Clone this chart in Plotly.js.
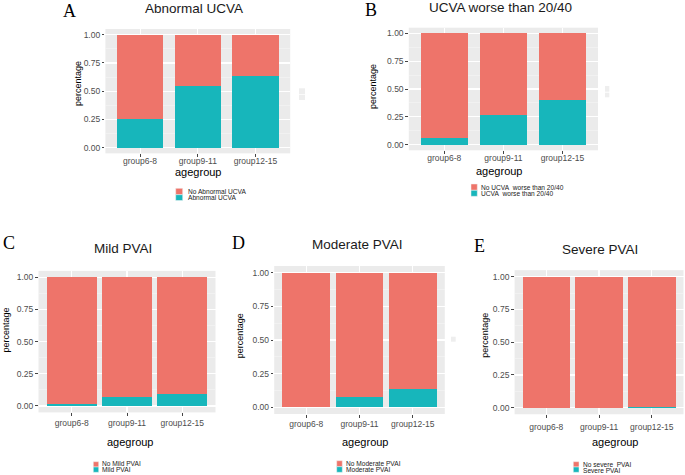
<!DOCTYPE html>
<html><head><meta charset="utf-8">
<script src="https://cdn.plot.ly/plotly-3.0.1.min.js"></script>
<style>html,body{margin:0;padding:0;background:#fff}#chart{width:685px;height:475px}</style>
</head><body><div id="chart"></div>
<script>
// ---- data ----
const ageGroups = ['group6-8', 'group9-11', 'group12-15'];
const yTickVals = [0, 0.25, 0.5, 0.75, 1];

const abnormalUCVA     = [0.254, 0.549, 0.634];
const noAbnormalUCVA   = [0.746, 0.451, 0.366];
const ucvaWorse        = [0.060, 0.270, 0.404];
const noUcvaWorse      = [0.940, 0.730, 0.596];
const mildPVAI         = [0.018, 0.068, 0.096];
const noMildPVAI       = [0.982, 0.932, 0.904];
const moderatePVAI     = [0.005, 0.079, 0.134];
const noModeratePVAI   = [0.995, 0.921, 0.866];
const severePVAI       = [0.000, 0.000, 0.003];
const noSeverePVAI     = [1.000, 1.000, 0.997];

const panelTitles = ['Abnormal UCVA', 'UCVA worse than 20/40', 'Mild PVAI', 'Moderate PVAI', 'Severe PVAI'];
const panelLetters = ['A', 'B', 'C', 'D', 'E'];
const posLabels = ['Abnormal UCVA', 'UCVA\u00a0 worse than 20/40', 'Mild PVAI', 'Moderate PVAI', 'Severe PVAI'];
const negLabels = ['No Abnormal UCVA', 'No UCVA\u00a0 worse than 20/40', 'No Mild PVAI', 'No Moderate PVAI', 'No severe\u00a0 PVAI'];
const posSeries = [abnormalUCVA, ucvaWorse, mildPVAI, moderatePVAI, severePVAI];
const negSeries = [noAbnormalUCVA, noUcvaWorse, noMildPVAI, noModeratePVAI, noSeverePVAI];

// ---- layout geometry (pixels) ----
const W = 685, H = 475;
const geom = [
  {x:[105.4,290.2], y:[29.05,153.35], bw:0.8, so:-3, t:[194,8.5], l:[69.7,10.5], ag:[198.7,172], pc:[77.8,83.3],
   sw:[175.7,7], sp:[188.3,194.7], st:[194.7,200.5], tx:186, ty:[191,197.3]},
  {x:[408.8,598], y:[27.7,150.3], bw:0.8, so:-3, t:[500.5,7], l:[371,9.7], ag:[499.7,170.5], pc:[372.3,86.7],
   sw:[471,6.3], sp:[184,190.3], st:[190.3,196.3], tx:478.5, ty:[187,193.3]},
  {x:[38.5,215.5], y:[270.9,412.4], bw:0.9, so:0, t:[123.3,248.5], l:[9,243], ag:[130.3,442], pc:[6.3,330.3],
   sw:[93.3,5.4], sp:[461.7,467], st:[467,472.3], tx:100, ty:[463.9,469.8]},
  {x:[274.2,444.8], y:[266,414], bw:0.9, so:-1, t:[357.8,244.5], l:[238,243], ag:[365.3,442], pc:[239.5,335.8],
   sw:[336.7,5.6], sp:[460.7,466.7], st:[466.7,472.3], tx:344, ty:[463,469.5]},
  {x:[514.6,683.5], y:[270.15,414.25], bw:0.9, so:2, t:[600.3,249], l:[479,245.5], ag:[615.3,442], pc:[484.7,335],
   sw:[573.3,5.7], sp:[461.7,467], st:[467,472.3], tx:581, ty:[464,470]}
];
const px = x => x / W;
const py = y => 1 - y / H;

const PINK = '#EE746A', TEAL = '#17B6BB';
const FONT = 'Liberation Sans, Arial, sans-serif';

const traces = [];
const layout = {
  width: W, height: H,
  margin: {l:0, r:0, t:0, b:0},
  paper_bgcolor: '#ffffff',
  plot_bgcolor: '#EBEBEB',
  barmode: 'stack',
  showlegend: false,
  font: {family: FONT, color: '#4D4D4D'},
  annotations: [],
  shapes: []
};

geom.forEach((g, i) => {
  const s = i === 0 ? '' : String(i + 1);
  const xa = 'x' + s, ya = 'y' + s;
  traces.push({type:'bar', x: ageGroups, y: posSeries[i], name: posLabels[i], xaxis: xa, yaxis: ya,
               width: g.bw, marker: {color: TEAL, line: {width: 0}}, hoverinfo: 'none'});
  traces.push({type:'bar', x: ageGroups, y: negSeries[i], name: negLabels[i], xaxis: xa, yaxis: ya,
               width: g.bw, marker: {color: PINK, line: {width: 0}}, hoverinfo: 'none'});
  layout['xaxis' + s] = {
    domain: [px(g.x[0]), px(g.x[1])], anchor: ya, type: 'category',
    categoryorder: 'array', categoryarray: ageGroups,
    range: [-0.6, 2.6], showgrid: true, gridcolor: '#FFFFFF', gridwidth: 1.1,
    zeroline: false, showline: false, ticks: 'outside', ticklen: 2.5, tickcolor: '#444', tickwidth: 1,
    ticklabelstandoff: g.so,
    tickfont: {family: FONT, size: 8.5, color: '#4D4D4D'}, fixedrange: true
  };
  layout['yaxis' + s] = {
    domain: [py(g.y[1]), py(g.y[0])], anchor: xa,
    range: [-0.05, 1.05], tickvals: yTickVals, tickformat: '.2f',
    showgrid: true, gridcolor: '#FFFFFF', gridwidth: 1.1,
    minor: {tick0: 0, dtick: 0.125, showgrid: true, gridcolor: '#F5F5F5', gridwidth: 0.6, ticks: ''},
    zeroline: false, showline: false, ticks: 'outside', ticklen: 2.5, tickcolor: '#444', tickwidth: 1,
    tickfont: {family: FONT, size: 8.5, color: '#4D4D4D'}, fixedrange: true
  };
  const ann = layout.annotations;
  ann.push({text: panelTitles[i], x: px(g.t[0]), y: py(g.t[1]), xref:'paper', yref:'paper',
            xanchor:'center', yanchor:'middle', showarrow:false, font:{family: FONT, size: 13.5, color:'#1a1a1a'}});
  ann.push({text: panelLetters[i], x: px(g.l[0]), y: py(g.l[1]), xref:'paper', yref:'paper',
            xanchor:'center', yanchor:'middle', showarrow:false, font:{family:'Liberation Serif, Times New Roman, serif', size: 18, color:'#000'}});
  ann.push({text: 'agegroup', x: px(g.ag[0]), y: py(g.ag[1]), xref:'paper', yref:'paper',
            xanchor:'center', yanchor:'middle', showarrow:false, font:{family: FONT, size: 11, color:'#000'}});
  ann.push({text: 'percentage', x: px(g.pc[0]), y: py(g.pc[1]), xref:'paper', yref:'paper', textangle: -90,
            xanchor:'center', yanchor:'middle', showarrow:false, font:{family: FONT, size: 9, color:'#000'}});
  ann.push({text: negLabels[i], x: px(g.tx), y: py(g.ty[0]), xref:'paper', yref:'paper',
            xanchor:'left', yanchor:'middle', showarrow:false, font:{family: FONT, size: 6.6, color:'#1a1a1a'}});
  ann.push({text: posLabels[i], x: px(g.tx), y: py(g.ty[1]), xref:'paper', yref:'paper',
            xanchor:'left', yanchor:'middle', showarrow:false, font:{family: FONT, size: 6.6, color:'#1a1a1a'}});
  layout.shapes.push({type:'rect', xref:'paper', yref:'paper', x0: px(g.sw[0]), x1: px(g.sw[0] + g.sw[1]),
                      y0: py(g.sp[1]), y1: py(g.sp[0]), fillcolor: PINK, line:{width:0.5, color:'#f2f2f2'}});
  layout.shapes.push({type:'rect', xref:'paper', yref:'paper', x0: px(g.sw[0]), x1: px(g.sw[0] + g.sw[1]),
                      y0: py(g.st[1]), y1: py(g.st[0]), fillcolor: TEAL, line:{width:0.5, color:'#f2f2f2'}});
});

// faint leftover legend keys seen in the reference
[[299,88.3,305,94.3],[299,95,305,100],[605,86,609.3,91.7],[605,92.7,609.3,97.3],[451,336.7,455.7,341.7]].forEach(r => {
  layout.shapes.push({type:'rect', xref:'paper', yref:'paper', x0: px(r[0]), x1: px(r[2]), y0: py(r[3]), y1: py(r[1]),
                      fillcolor:'#EEEEEE', line:{width:0}});
});

Plotly.newPlot('chart', traces, layout, {staticPlot: true, displayModeBar: false});
</script>
</body></html>
